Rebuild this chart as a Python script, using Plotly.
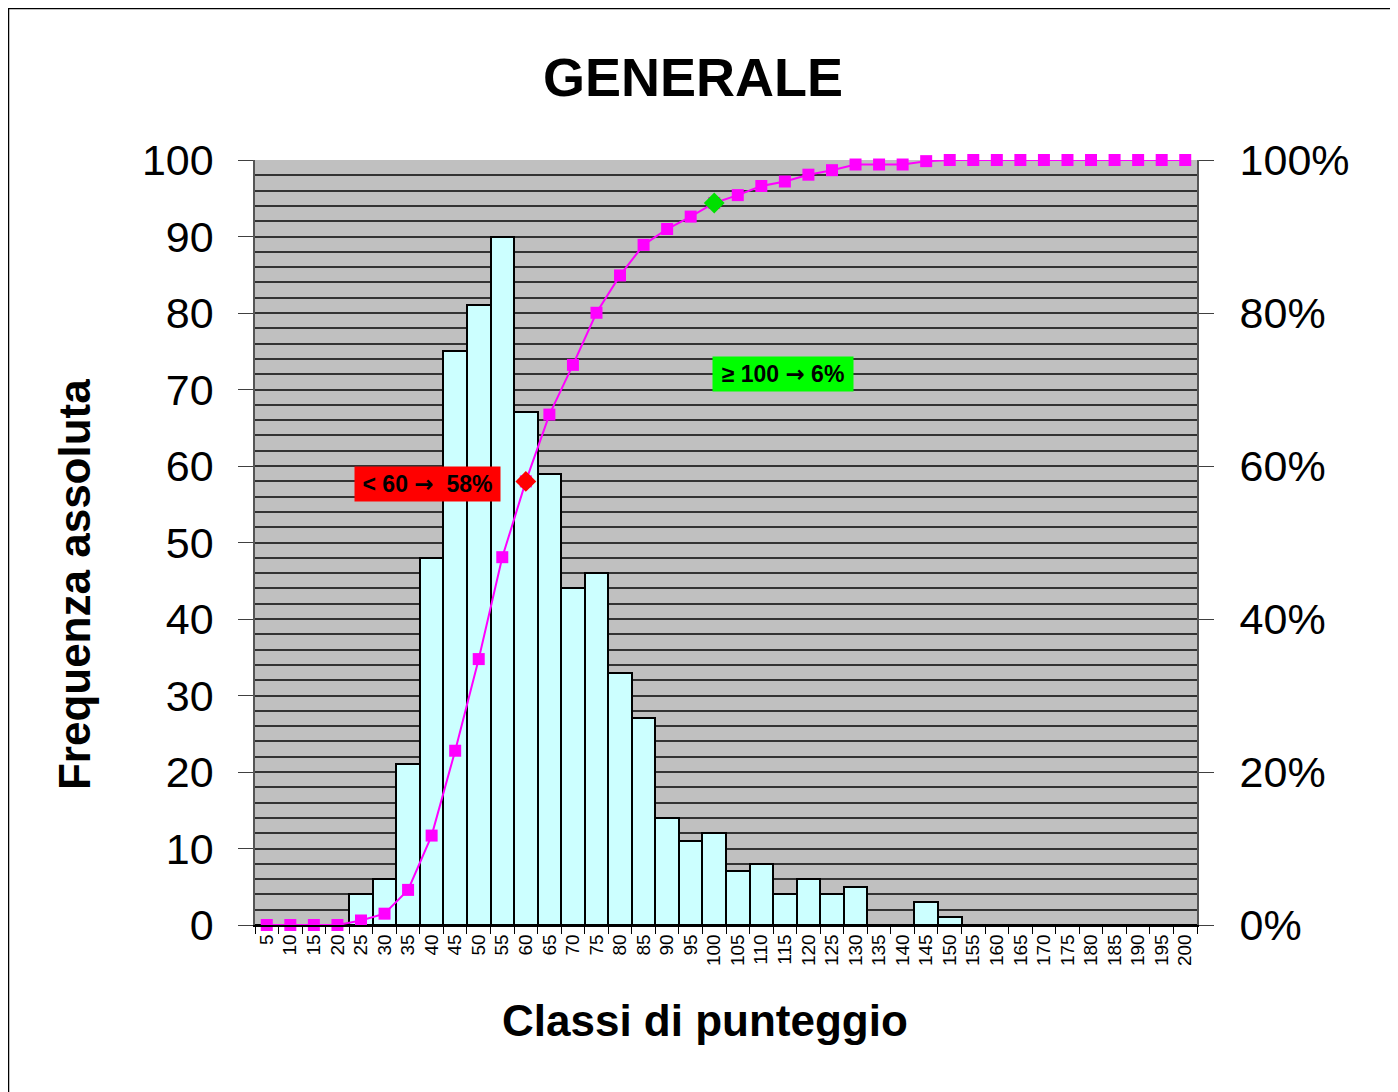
import plotly.graph_objs as go

# classi di punteggio (etichette asse x)
classi = ['5', '10', '15', '20', '25', '30', '35', '40', '45', '50',
          '55', '60', '65', '70', '75', '80', '85', '90', '95', '100',
          '105', '110', '115', '120', '125', '130', '135', '140', '145', '150',
          '155', '160', '165', '170', '175', '180', '185', '190', '195', '200']

# frequenza assoluta per classe
frequenza = [0, 0, 0, 0, 4, 6, 21, 48, 75, 81,
             90, 67, 59, 44, 46, 33, 27, 14, 11, 12,
             7, 8, 4, 6, 4, 5, 0, 0, 3, 1,
             0, 0, 0, 0, 0, 0, 0, 0, 0, 0]

# frequenza cumulata (%)
cumulata = [0, 0, 0, 0, 0.59, 1.48, 4.59, 11.69, 22.78, 34.76,
            48.08, 57.99, 66.72, 73.22, 80.03, 84.91, 88.91, 90.98, 92.60, 94.38,
            95.41, 96.60, 97.19, 98.08, 98.67, 99.41, 99.41, 99.41, 99.85, 100,
            100, 100, 100, 100, 100, 100, 100, 100, 100, 100]

# punti evidenziati
soglia_bassa = '60'
soglia_alta = '100'

FONT = 'Arial, Liberation Sans, sans-serif'
ARROW = '<span style="font-family:DejaVu Sans">→</span>'

fig = go.Figure()
fig.add_trace(go.Bar(x=classi, y=frequenza, marker=dict(color='#CCFFFF', line=dict(color='black', width=2)),
                     name='Frequenza'))
fig.add_trace(go.Scatter(x=classi, y=cumulata, yaxis='y2', mode='lines+markers', cliponaxis=False,
                         line=dict(color='#FF00FF', width=2),
                         marker=dict(symbol='square', size=12, color='#FF00FF'), name='Cumulata'))
i_lo = classi.index(soglia_bassa)
i_hi = classi.index(soglia_alta)
fig.add_trace(go.Scatter(x=[classi[i_lo]], y=[cumulata[i_lo]], yaxis='y2', mode='markers', cliponaxis=False,
                         marker=dict(symbol='diamond', size=16, color='#FF0000')))
fig.add_trace(go.Scatter(x=[classi[i_hi]], y=[cumulata[i_hi]], yaxis='y2', mode='markers', cliponaxis=False,
                         marker=dict(symbol='diamond', size=16, color='#00E000')))

# la pagina ha 8px di margine: figura più piccola e spostata
fig.update_layout(
    width=1390, height=1084,
    margin=dict(l=247, r=201, t=152, b=167),
    paper_bgcolor='white', plot_bgcolor='#C0C0C0',
    showlegend=False, bargap=0,
    font=dict(family=FONT, color='black'),
    xaxis=dict(type='category', tickangle=-90, tickfont=dict(size=19), tickson='boundaries',
               ticks='outside', ticklen=7, tickcolor='black', showline=True, linecolor='black',
               linewidth=1.5, showgrid=False, range=[-0.5, 39.5]),
    yaxis=dict(range=[0, 100], dtick=10, tickfont=dict(size=43), ticks='outside', ticklen=15,
               tickcolor='#404040', ticklabelstandoff=16,
               showgrid=True, gridcolor='#333333', gridwidth=1.5,
               minor=dict(dtick=2, showgrid=True, gridcolor='#333333', gridwidth=1.5),
               showline=True, linecolor='#555555', linewidth=1.5, zeroline=False),
    yaxis2=dict(range=[0, 100], dtick=20, ticksuffix='%', overlaying='y', side='right',
                tickfont=dict(size=43), ticks='outside', ticklen=15, tickcolor='#404040',
                ticklabelstandoff=17, showgrid=False, zeroline=False,
                showline=True, linecolor='#555555', linewidth=2),
)

ann = dict(xref='paper', yref='paper', showarrow=False, xanchor='center', yanchor='middle')
fig.add_annotation(text='<b>GENERALE</b>', x=0.465, y=1.1085, font=dict(size=54), **ann)
fig.add_annotation(text='<b>Classi di punteggio</b>', x=0.4777, y=-0.1242, font=dict(size=44), **ann)
fig.add_annotation(text='<b>Frequenza assoluta</b>', x=-0.1921, y=0.4444, textangle=-90,
                   font=dict(size=44), **ann)

fig.add_annotation(text='<b>&lt; 60 ' + ARROW + '  58%</b>', x=0.1826, y=0.5765, bgcolor='#FF0000',
                   width=141, height=30, borderpad=2, font=dict(size=23), **ann)
fig.add_annotation(text='<b>≥ 100 ' + ARROW + ' 6%</b>', x=0.5605, y=0.7203, bgcolor='#00FF00',
                   width=136, height=30, borderpad=2, font=dict(size=23), **ann)

# cornice esterna
fig.add_shape(type='rect', xref='paper', yref='paper', x0=-0.2622, x1=1.2134, y0=-0.25, y1=1.1987,
              line=dict(color='black', width=2.5), fillcolor='rgba(0,0,0,0)', layer='below')

fig.write_html("out.html")
